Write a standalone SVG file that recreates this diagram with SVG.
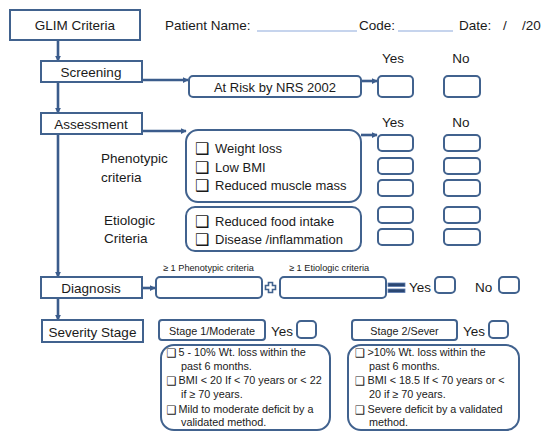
<svg xmlns="http://www.w3.org/2000/svg" width="550" height="438" viewBox="0 0 550 438">
<defs>
<style>
.t{font-family:"Liberation Sans",Arial,sans-serif;fill:#1a1a1a;font-size:13.5px}
.m{font-size:13px}
.s{font-size:10.8px}
.xs{font-size:9.2px}
.c{text-anchor:middle}
.ck{font-family:"DejaVu Sans",sans-serif;fill:#1a1a1a}
.box{fill:#fff;stroke:#41628e;stroke-width:2}
.cb{fill:#fff;stroke:#41628e;stroke-width:2}
.con{fill:none;stroke:#3b5c8c;stroke-width:2.6}
.ul{stroke:#8eaadb;stroke-width:1.2}
</style>
<marker id="ah" viewBox="0 0 8 8" refX="7" refY="4" markerWidth="6" markerHeight="6" markerUnits="userSpaceOnUse" orient="auto">
<path d="M0,0 L8,4 L0,8 z" fill="#3b5c8c"/>
</marker>
</defs>
<rect width="550" height="438" fill="#fff"/>

<g id="connectors">
<path class="con" d="M58,40 V61" marker-end="url(#ah)"/>
<path class="con" d="M58,82 V113" marker-end="url(#ah)"/>
<path class="con" d="M58,134 V277" marker-end="url(#ah)"/>
<path class="con" d="M58,299 V320" marker-end="url(#ah)"/>
<path class="con" d="M142,80 H188" marker-end="url(#ah)"/>
<path class="con" d="M361,81 H377" marker-end="url(#ah)"/>
<path class="con" d="M142,131 H186" marker-end="url(#ah)"/>
<path class="con" d="M361,135 H377" marker-end="url(#ah)"/>
<path class="con" d="M143,288 H155" marker-end="url(#ah)"/>
</g>

<g id="header">
<rect class="box" x="10" y="10" width="130" height="30"/>
<text class="t c" x="75" y="30">GLIM Criteria</text>
<text class="t" x="165" y="30">Patient Name:</text>
<line class="ul" x1="257" y1="31" x2="357" y2="31"/>
<text class="t" x="359" y="30">Code:</text>
<line class="ul" x1="398" y1="31" x2="453" y2="31"/>
<text class="t" x="459" y="30">Date:</text>
<text class="t" x="503" y="30">/</text>
<text class="t" x="522" y="30">/20</text>
</g>

<g id="screening">
<rect class="box" x="41" y="61" width="101" height="21"/>
<text class="t c" x="91" y="76.5">Screening</text>
</g>
<g id="at-risk">
<rect class="box" x="189" y="76" width="172" height="21" rx="4"/>
<text class="t m c" x="275" y="91.5">At Risk by NRS 2002</text>
</g>
<g id="screen-answers">
<text class="t c" x="393" y="63">Yes</text>
<text class="t c" x="461" y="63">No</text>
<rect class="cb" x="378" y="76" width="35" height="21" rx="4"/>
<rect class="cb" x="444" y="76" width="36" height="21" rx="4"/>
</g>

<g id="assessment">
<rect class="box" x="41" y="113" width="101" height="21"/>
<text class="t c" x="91" y="128.5">Assessment</text>
</g>
<g id="phenotypic">
<text class="t" x="101" y="162.5">Phenotypic</text>
<text class="t" x="101" y="181.5">criteria</text>
<rect class="box" x="186" y="130" width="175" height="72" rx="12"/>
<text class="ck" x="195" y="153.5" font-size="16">❑</text>
<text class="t m" x="215" y="152.5">Weight loss</text>
<text class="ck" x="195" y="172.5" font-size="16">❑</text>
<text class="t m" x="215" y="171.5">Low BMI</text>
<text class="ck" x="195" y="190.5" font-size="16">❑</text>
<text class="t m" x="215" y="189.5">Reduced muscle mass</text>
</g>
<g id="etiologic">
<text class="t" x="104" y="224.5">Etiologic</text>
<text class="t" x="104" y="242.5">Criteria</text>
<rect class="box" x="186" y="207" width="175" height="44" rx="9"/>
<text class="ck" x="195" y="226.5" font-size="16">❑</text>
<text class="t m" x="215" y="225.5">Reduced food intake</text>
<text class="ck" x="195" y="244.5" font-size="16">❑</text>
<text class="t m" x="215" y="243.5">Disease /inflammation</text>
</g>
<g id="assess-answers">
<text class="t c" x="393" y="127">Yes</text>
<text class="t c" x="461" y="127">No</text>
<rect class="cb" x="378" y="135" width="35" height="16" rx="4"/>
<rect class="cb" x="444" y="135" width="36" height="16" rx="4"/>
<rect class="cb" x="378" y="158" width="35" height="16" rx="4"/>
<rect class="cb" x="444" y="158" width="36" height="16" rx="4"/>
<rect class="cb" x="378" y="180" width="35" height="16" rx="4"/>
<rect class="cb" x="444" y="180" width="36" height="16" rx="4"/>
<rect class="cb" x="378" y="207" width="35" height="16" rx="4"/>
<rect class="cb" x="444" y="207" width="36" height="16" rx="4"/>
<rect class="cb" x="378" y="229" width="35" height="16" rx="4"/>
<rect class="cb" x="444" y="229" width="36" height="16" rx="4"/>
</g>

<g id="diagnosis">
<rect class="box" x="41" y="277" width="101" height="21"/>
<text class="t c" x="91" y="292.5">Diagnosis</text>
</g>
<g id="diag-pheno">
<text class="t xs" x="163" y="271">≥ 1 Phenotypic  criteria</text>
<rect class="box" x="156" y="277" width="106" height="21" rx="4"/>
</g>
<g id="plus">
<path d="M265.5,285.5 h3 v-3 h4 v3 h3 v4 h-3 v3 h-4 v-3 h-3 z" fill="#fff" stroke="#41628e" stroke-width="1.6"/>
</g>
<g id="diag-etio">
<text class="t xs" x="289" y="271">≥ 1 Etiologic  criteria</text>
<rect class="box" x="280" y="277" width="106" height="21" rx="4"/>
</g>
<g id="equals">
<rect x="388" y="283" width="17" height="3.5" fill="#2a4672" stroke="#5b7bb0" stroke-width="0.8"/>
<rect x="388" y="289" width="17" height="3.5" fill="#2a4672" stroke="#5b7bb0" stroke-width="0.8"/>
</g>
<g id="diag-answers">
<text class="t" x="409" y="292">Yes</text>
<rect class="cb" x="435" y="277" width="20" height="16" rx="4"/>
<text class="t" x="475" y="292">No</text>
<rect class="cb" x="499" y="277" width="20" height="16" rx="4"/>
</g>

<g id="severity">
<rect class="box" x="42" y="320" width="101" height="22"/>
<text class="t c" x="92.5" y="336.5">Severity Stage</text>
</g>
<g id="stage1">
<rect class="box" x="159" y="320" width="106" height="20" rx="3"/>
<text class="t s c" x="212" y="334.5">Stage 1/Moderate</text>
<text class="t" x="271" y="336">Yes</text>
<rect class="cb" x="297" y="321" width="19" height="17" rx="4"/>
<rect class="box" x="161" y="345" width="169" height="85" rx="13"/>
<text class="ck" x="166.5" y="357" font-size="11.5">❑</text>
<text class="t s" x="178.5" y="356">5 - 10% Wt. loss within the</text>
<text class="t s" x="181" y="370">past 6 months.</text>
<text class="ck" x="166.5" y="385" font-size="11.5">❑</text>
<text class="t s" x="178.5" y="384">BMI &lt; 20 If &lt; 70 years or &lt; 22</text>
<text class="t s" x="181" y="398">if ≥ 70 years.</text>
<text class="ck" x="166.5" y="413.5" font-size="11.5">❑</text>
<text class="t s" x="178.5" y="412.5">Mild to moderate deficit by a</text>
<text class="t s" x="181" y="426">validated method.</text>
</g>
<g id="stage2">
<rect class="box" x="352" y="320" width="105" height="20" rx="3"/>
<text class="t s c" x="404.5" y="334.5">Stage 2/Sever</text>
<text class="t" x="463" y="336">Yes</text>
<rect class="cb" x="489" y="321" width="19" height="17" rx="4"/>
<rect class="box" x="348" y="345" width="171" height="85" rx="13"/>
<text class="ck" x="355" y="357" font-size="11.5">❑</text>
<text class="t s" x="367.5" y="356">&gt;10% Wt. loss within the</text>
<text class="t s" x="369" y="370">past 6 months.</text>
<text class="ck" x="355" y="385" font-size="11.5">❑</text>
<text class="t s" x="367.5" y="384">BMI &lt; 18.5 If &lt; 70 years or &lt;</text>
<text class="t s" x="369" y="398">20 if ≥ 70 years.</text>
<text class="ck" x="355" y="413.5" font-size="11.5">❑</text>
<text class="t s" x="367.5" y="412.5">Severe deficit by a validated</text>
<text class="t s" x="369" y="426">method.</text>
</g>
</svg>
